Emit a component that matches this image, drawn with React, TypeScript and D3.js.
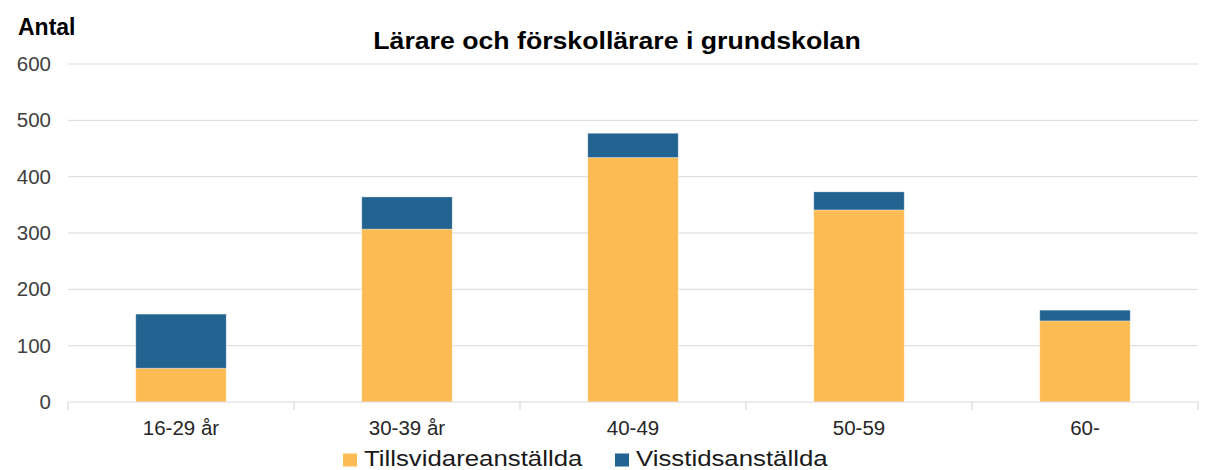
import React from "react";
import * as d3 from "d3";

const categories = ["16-29 år", "30-39 år", "40-49", "50-59", "60-"];
const tillsvidare = [60, 307, 434, 341, 144];
const visstid = [96, 57, 43, 32, 19];
const yTicks = [0, 100, 200, 300, 400, 500, 600];
const seriesNames = ["Tillsvidareanställda", "Visstidsanställda"];
const colors = ["#FDBB53", "#236391"];

const W = 1213;
const H = 470;
const M = { left: 68, right: 1198, top: 64, bottom: 402 };
const FONT = "'Liberation Sans', Arial, sans-serif";

export default function App() {
  const x = d3.scaleBand<string>().domain(categories).range([M.left, M.right]).padding(0);
  const y = d3.scaleLinear().domain([0, 600]).range([M.bottom, M.top]);
  const bw = x.bandwidth() * 0.4;

  const rows = categories.map((c, i) => ({ c, t: tillsvidare[i], v: visstid[i] }));
  const stack = d3.stack<any>().keys(["t", "v"])(rows as any);

  return (
    <svg width={W} height={H} style={{ position: "absolute", left: 0, top: 0, background: "#fff" }} fontFamily={FONT}>
      {yTicks.map((t) => (
        <g key={t}>
          {t > 0 && (
            <line x1={M.left} x2={M.right} y1={y(t)} y2={y(t)} stroke="#d9d9d9" strokeWidth={1} />
          )}
          <text x={51} y={y(t) + 7} textAnchor="end" fontSize={20.5} fill="#404040">
            {t}
          </text>
        </g>
      ))}
      {stack.map((s, si) =>
        s.map((d, i) => (
          <rect
            key={si + "-" + i}
            x={(x(categories[i]) as number) + (x.bandwidth() - bw) / 2}
            width={bw}
            y={y(d[1])}
            height={y(d[0]) - y(d[1])}
            fill={colors[si]}
            stroke="rgba(255,255,255,0.35)"
            strokeWidth={0.8}
          />
        ))
      )}
      <line x1={M.left} x2={M.right} y1={M.bottom} y2={M.bottom} stroke="#d9d9d9" strokeWidth={1.2} />
      {d3.range(categories.length + 1).map((i) => {
        const xx = M.left + i * x.step();
        return <line key={i} x1={xx} x2={xx} y1={M.bottom} y2={M.bottom + 8} stroke="#d9d9d9" strokeWidth={1.2} />;
      })}
      {categories.map((c) => (
        <text key={c} x={(x(c) as number) + x.bandwidth() / 2} y={435} textAnchor="middle" fontSize={20.5} fill="#262626">
          {c}
        </text>
      ))}
      <text x={18} y={35} fontSize={23} fontWeight="bold" fill="#000">
        Antal
      </text>
      <g transform={`translate(617,49) scale(1.16,1)`}>
        <text x={0} y={0} textAnchor="middle" fontSize={23} fontWeight="bold" fill="#000">
          Lärare och förskollärare i grundskolan
        </text>
      </g>
      {seriesNames.map((n, i) => {
        const sx = i === 0 ? 343 : 615;
        return (
          <g key={n}>
            <rect x={sx} y={453.5} width={14} height={13} fill={colors[i]} />
            <g transform={`translate(${sx + 21},465.5) scale(1.2,1)`}>
              <text x={0} y={0} fontSize={21.5} fill="#1a1a1a">
                {n}
              </text>
            </g>
          </g>
        );
      })}
    </svg>
  );
}
